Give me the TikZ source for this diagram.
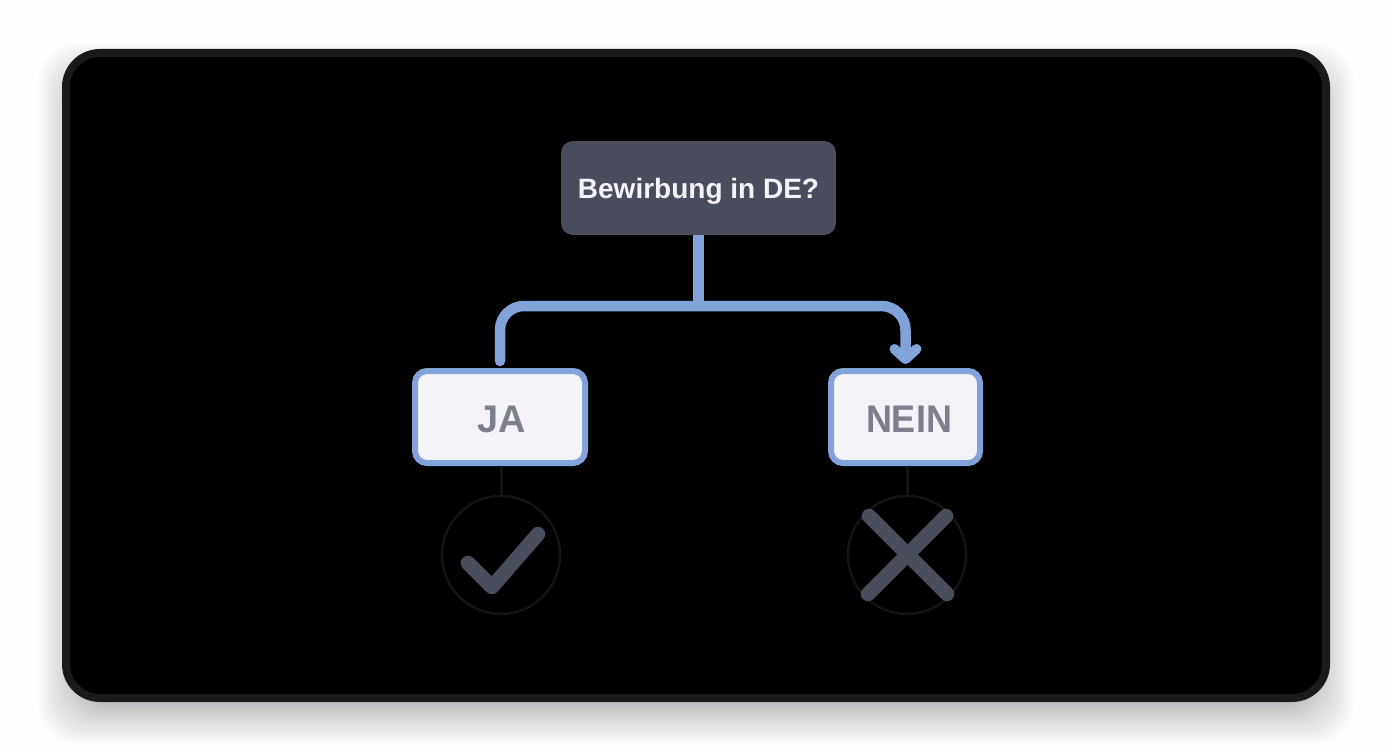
\documentclass[tikz,border=0pt]{standalone}
\usepackage{fontspec}
\usepackage{graphicx}
\setmainfont{Liberation Sans}
\usetikzlibrary{arrows.meta,positioning}
\definecolor{dfpage}{RGB}{254,254,254}
\definecolor{dfrim}{RGB}{26,26,28}
\definecolor{dfslate}{RGB}{74,77,92}
\definecolor{dfblue}{RGB}{130,163,217}
\definecolor{dfpaper}{RGB}{243,243,248}
\definecolor{dfgrey}{RGB}{125,127,140}
\definecolor{dfring}{RGB}{20,20,22}
\tikzset{
  question/.style={rectangle, rounded corners=12pt, minimum width=275pt, minimum height=94pt, fill=dfslate, text=dfpaper, text height=26pt, text depth=6pt, font=\bfseries\fontsize{28}{30}\selectfont},
  answer/.style={rectangle, rounded corners=12pt, minimum height=92pt, draw=dfblue, line width=6pt, fill=dfpaper, text=dfgrey, text height=30pt, text depth=0pt, font=\bfseries\fontsize{36}{37}\selectfont},
  branch/.style={line width=10.5pt, color=dfblue, rounded corners=24pt, line cap=round},
  stub/.style={line width=3pt, color=dfring},
  ring/.style={circle, draw=dfring, line width=2.5pt, minimum size=118pt},
  icon/.style={line width=14.5pt, color=dfslate, line cap=round, line join=round}
}
\begin{document}
\begin{tikzpicture}[x=1pt,y=-1pt]
\useasboundingbox (0,0) rectangle (1392,752);
\fill[dfpage] (0,0) rectangle (1392,752);
% soft shadow under the panel
\foreach \g in {-18,-16,...,24}
  \fill[black!85!blue, opacity=0.011, rounded corners=40pt] (62-\g,67-\g) rectangle (1330+\g,720+\g);
% panel
\draw[fill=black, draw=dfrim, line width=8pt, rounded corners=34pt] (66,53) rectangle (1326,698);

\node (ask) [question] at (698.5,188) {Bewirbung in DE?};
\node (ja) [answer, minimum width=170pt] at (500,417) {\hspace*{3pt}\scalebox{1.05}[1.07]{JA}};
\node (nein) [answer, minimum width=149pt] at (905.5,417) {\hspace*{7pt}\scalebox{1}[1.07]{NEIN}};
\node (ja_ring) [ring] at (501,555) {};
\node (nein_ring) [ring] at (907,555) {};
\coordinate (fork) at (698.5,306);

% branches
\draw[line width=10.5pt, color=dfblue] (ask.south) -- (fork);
\draw[branch, shorten <=7pt, shorten >=4pt, -{Straight Barb[length=10pt,width=22pt,line width=10pt,round]}] (ja.north) -- (ja.north |- fork) -- (nein.north |- fork) -- (nein.north);

\draw[stub] (ja_ring.north |- ja.south) -- (ja_ring.north);
\draw[stub] (nein_ring.north |- nein.south) -- (nein_ring.north);

% icons
\draw[icon] (ja_ring.center) ++(-33,8) -- ++(24,24) -- ++(46,-53);
\draw[icon] (nein_ring.center) ++(-38,-39) -- ++(78,78);
\draw[icon] (nein_ring.center) ++(39,-39) -- ++(-78,78);
\end{tikzpicture}
\end{document}
